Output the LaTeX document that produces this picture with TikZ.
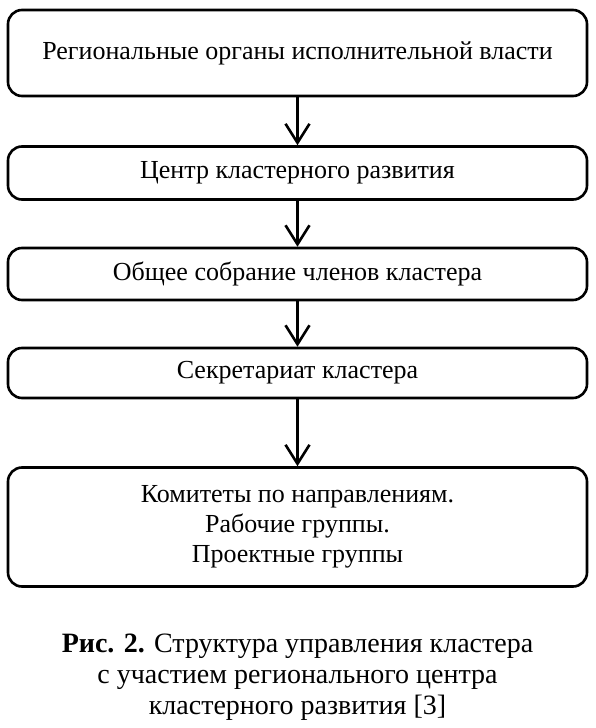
\documentclass[tikz,border=0pt]{standalone}
\usepackage{fontspec}
\setmainfont{Liberation Serif}
\usetikzlibrary{arrows.meta}
\begin{document}
\begin{tikzpicture}[x=1pt, y=1pt,
    box/.style={draw, line width=2.6pt, rounded corners=14pt, minimum width=579pt, align=center, font=\fontsize{26}{30}\selectfont},
    flow/.style={-{Straight Barb[length=19pt, width=24pt, line width=2.6pt]}, line width=2.6pt}]
    \useasboundingbox (0,0) rectangle (595,-728);

    \node[box, minimum height=86pt] (organs) at (297.5,-53) {Региональные органы исполнительной власти};
    \node[box, minimum height=53pt] (centre) at (297.5,-173) {Центр кластерного развития};
    \node[box, minimum height=52pt] (meeting) at (297.5,-274) {Общее собрание членов кластера};
    \node[box, minimum height=50pt] (secretariat) at (297.5,-373) {Секретариат кластера};
    \node[box, minimum height=119pt] (groups) at (297.5,-527) {Комитеты по направлениям.\\ Рабочие группы.\\ Проектные группы};

    \draw[flow] (organs) -- (centre);
    \draw[flow] (centre) -- (meeting);
    \draw[flow] (meeting) -- (secretariat);
    \draw[flow] (secretariat) -- (groups);

    % caption
    \node[align=center, font=\fontsize{28}{31}\selectfont] (caption) at (297.5,-677)
        {\textbf{Рис. 2.} Структура управления кластера\\ с участием регионального центра\\ кластерного развития [3]};
\end{tikzpicture}
\end{document}
